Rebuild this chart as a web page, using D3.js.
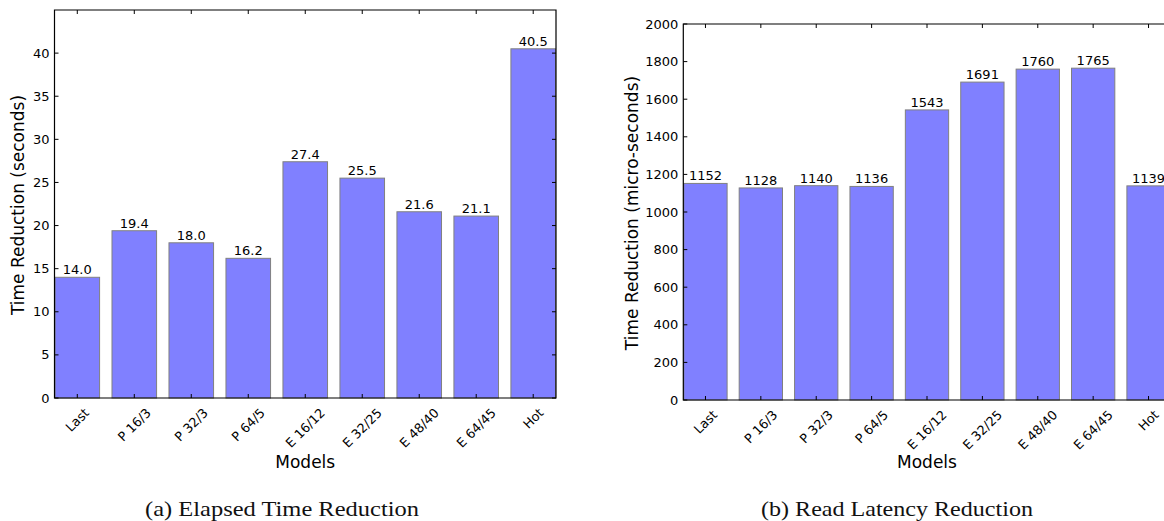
<!DOCTYPE html>
<html><head><meta charset="utf-8">
<script src="https://cdn.jsdelivr.net/npm/d3@7"></script>
<style>body{margin:0;background:#fff}svg{display:block}</style>
</head><body>
<svg id="c" width="1164" height="521"></svg>
<script>
const categories = ["Last","P 16/3","P 32/3","P 64/5","E 16/12","E 32/25","E 48/40","E 64/45","Hot"];
const elapsedValues = [14.0,19.4,18.0,16.2,27.4,25.5,21.6,21.1,40.5];
const elapsedLabels = ["14.0","19.4","18.0","16.2","27.4","25.5","21.6","21.1","40.5"];
const latencyValues = [1152,1128,1140,1136,1543,1691,1760,1765,1139];
const elapsedTicks = [0,5,10,15,20,25,30,35,40];
const latencyTicks = [0,200,400,600,800,1000,1200,1400,1600,1800,2000];

const svg = d3.select("#c");
const SANS = "DejaVu Sans";

function panel(o){
  const g = svg.append("g");
  const x = d3.scaleBand().domain(categories).range([o.left,o.right]).paddingInner(0.2).paddingOuter(0);
  const y = d3.scaleLinear().domain(o.domain).range([o.bottom,o.top]);
  g.selectAll("rect.bar").data(o.values).join("rect")
    .attr("x",(d,i)=>x(categories[i])+0.5).attr("width",x.bandwidth()-1)
    .attr("y",d=>y(d)).attr("height",d=>o.bottom-y(d))
    .attr("fill","#8080ff").attr("stroke","#808080").attr("stroke-width",1);
  g.selectAll("text.val").data(o.values).join("text")
    .attr("x",(d,i)=>x(categories[i])+x.bandwidth()/2).attr("y",d=>y(d)-3)
    .attr("text-anchor","middle").attr("font-family",SANS).attr("font-size",13).attr("fill","#000")
    .text((d,i)=>o.labels[i]);
  const L=o.left,R=o.right,T=o.top,B=o.bottom;
  g.append("path").attr("d",`M${L},${T}H${R}V${B}H${L}Z`).attr("fill","none").attr("stroke","#000").attr("stroke-width",1.2);
  o.ticks.forEach(t=>{
    const yy=y(t);
    g.append("line").attr("x1",L).attr("x2",L+4).attr("y1",yy).attr("y2",yy).attr("stroke","#000");
    g.append("line").attr("x1",R).attr("x2",R-4).attr("y1",yy).attr("y2",yy).attr("stroke","#000");
    g.append("text").attr("x",L-5).attr("y",yy).attr("dy","0.35em").attr("text-anchor","end")
      .attr("font-family",SANS).attr("font-size",13).attr("fill","#000").text(t);
  });
  categories.forEach(c=>{
    const xx=x(c)+x.bandwidth()/2;
    g.append("line").attr("x1",xx).attr("x2",xx).attr("y1",B).attr("y2",B-4).attr("stroke","#000");
    g.append("line").attr("x1",xx).attr("x2",xx).attr("y1",T).attr("y2",T+4).attr("stroke","#000");
    const fs=12.8;
    const tx=g.append("text").attr("font-family",SANS).attr("font-size",fs).attr("fill","#000")
      .attr("text-anchor","middle").attr("dominant-baseline","central").text(c);
    const w=tx.node().getComputedTextLength();
    const h=(w+fs)*Math.SQRT1_2;
    const cy=B+8+h/2;
    tx.attr("transform",`translate(${xx},${cy}) rotate(-45)`);
  });
  g.append("text").attr("x",(L+R)/2).attr("y",o.xTitleY).attr("text-anchor","middle")
    .attr("font-family",SANS).attr("font-size",17).attr("fill","#000").text("Models");
  g.append("text").attr("transform",`translate(${o.yTitleX},${(T+B)/2+1}) rotate(-90)`).attr("text-anchor","middle")
    .attr("font-family",SANS).attr("font-size",17).attr("fill","#000").text(o.yTitle);
  svg.append("text").attr("x",o.capX).attr("y",516).attr("text-anchor","middle")
    .attr("font-family","Liberation Serif, DejaVu Serif, serif").attr("font-size",22).attr("fill","#111")
    .attr("textLength",o.capW).attr("lengthAdjust","spacingAndGlyphs").text(o.caption);
}

panel({left:54.5,right:556,top:10,bottom:398,domain:[0,45],values:elapsedValues,labels:elapsedLabels,
  ticks:elapsedTicks,yTitle:"Time Reduction (seconds)",yTitleX:24,xTitleY:468,capX:282,capW:274,caption:"(a) Elapsed Time Reduction"});
panel({left:683.3,right:1170.7,top:24,bottom:400,domain:[0,2000],values:latencyValues,labels:latencyValues.map(String),
  ticks:latencyTicks,yTitle:"Time Reduction (micro-seconds)",yTitleX:638,xTitleY:468,capX:897,capW:272,caption:"(b) Read Latency Reduction"});
</script>
</body></html>
